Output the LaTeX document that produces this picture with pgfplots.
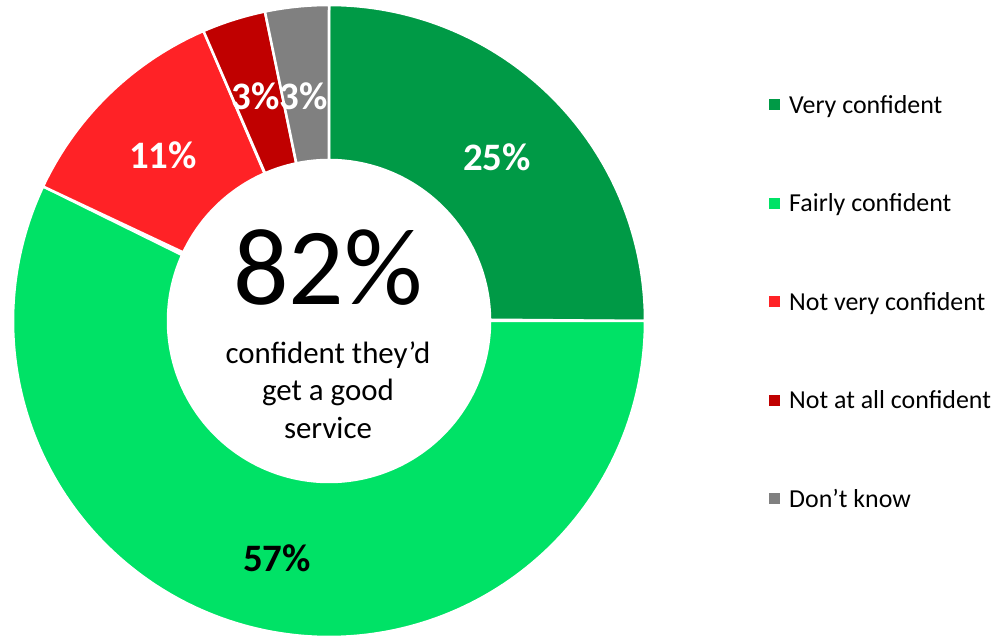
\documentclass[border=0pt]{standalone}
\usepackage{pgfplots}
\pgfplotsset{compat=1.18}
\usepackage{fontspec}
\setmainfont{Carlito}
\definecolor{cVery}{HTML}{009A46}
\definecolor{cFair}{HTML}{00E266}
\definecolor{cNotVery}{HTML}{FF2226}
\definecolor{cNotAll}{HTML}{C00000}
\definecolor{cDK}{HTML}{808080}
% #1 = cumulative start (%), #2 = cumulative end (%), #3 = colour
\newcommand{\ring}[3]{%
\addplot[fill=#3, draw=white, line width=2.5bp, domain=0:2, samples=401, variable=\t]
 ({329+ifthenelse(\t<=1,316,161)*cos(90-3.6*ifthenelse(\t<=1,#1+(#2-#1)*\t,#2+(#1-#2)*(\t-1)))},
  {319+ifthenelse(\t<=1,316,161)*sin(90-3.6*ifthenelse(\t<=1,#1+(#2-#1)*\t,#2+(#1-#2)*(\t-1)))}) -- cycle;}
\begin{document}
\begin{tikzpicture}
\begin{axis}[
  scale only axis, width=997bp, height=640bp,
  xmin=0, xmax=997, ymin=0, ymax=640,
  hide axis, clip=false,
  legend style={at={(axis cs:766,547)}, anchor=north west, draw=none, fill=none,
    font=\fontsize{26}{30}\selectfont, row sep=79bp,
    nodes={inner sep=0pt}, /tikz/every odd column/.append style={column sep=9bp}},
  legend cell align=left,
  legend image code/.code={\fill[#1,draw=none] (0bp,-5.5bp) rectangle (11bp,5.5bp);},
]
% values: 25, 57, 11.5, 3.25, 3.25 (labels 25%, 57%, 11%, 3%, 3%)
\ring{0}{25}{cVery}
\addlegendentry{Very confident}
\ring{25}{82}{cFair}
\addlegendentry{Fairly confident}
\ring{82}{93.5}{cNotVery}
\addlegendentry{Not very confident}
\ring{93.5}{96.75}{cNotAll}
\addlegendentry{Not at all confident}
\ring{96.75}{100}{cDK}
\addlegendentry{Don’t know}
\path[draw=none] (rel axis cs:0,0) rectangle (rel axis cs:1,1);
\node[text=white, font=\fontsize{39}{39}\bfseries\selectfont] at (axis cs:497,483) {25\%};
\node[text=black, font=\fontsize{39}{39}\bfseries\selectfont] at (axis cs:277,82) {57\%};
\node[text=white, font=\fontsize{39}{39}\bfseries\selectfont] at (axis cs:163,485) {11\%};
\node[text=white, font=\fontsize{39}{39}\bfseries\selectfont] at (axis cs:256,544) {3\%};
\node[text=white, font=\fontsize{39}{39}\bfseries\selectfont] at (axis cs:304,544) {3\%};
\node[font=\fontsize{110}{110}\selectfont] at (axis cs:328,372) {82\%};
\node[font=\fontsize{31}{37.5}\selectfont, align=center, anchor=base] at (axis cs:328,202) {confident they’d\\get a good\\service};
\end{axis}
\end{tikzpicture}
\end{document}
